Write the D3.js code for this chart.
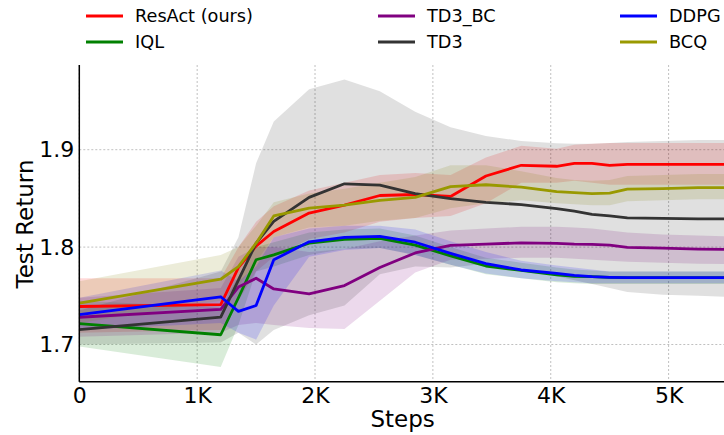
<!DOCTYPE html>
<html>
<head>
<meta charset="utf-8">
<script src="https://cdn.jsdelivr.net/npm/d3@7"></script>
<style>
  html, body { margin: 0; padding: 0; background: #fff; }
  svg { display: block; font-family: 'DejaVu Sans', sans-serif; }
</style>
</head>
<body>
<svg id="chart" width="724" height="435"></svg>
<script>
// training steps at which every run was evaluated
const steps = [0, 1200, 1350, 1500, 1650, 1950, 2250, 2550, 2850, 3150, 3450, 3750, 4050, 4200, 4350, 4500, 4650, 4950, 5250, 5500]

const resactMean = [1.739, 1.741, 1.779, 1.801, 1.816, 1.835, 1.843, 1.853, 1.854, 1.852, 1.873, 1.884, 1.883, 1.886, 1.886, 1.884, 1.885, 1.885, 1.885, 1.885]
const resactLo = [1.712, 1.715, 1.745, 1.775, 1.790, 1.808, 1.815, 1.826, 1.830, 1.832, 1.845, 1.866, 1.866, 1.868, 1.866, 1.864, 1.864, 1.864, 1.864, 1.864]
const resactHi = [1.768, 1.768, 1.800, 1.826, 1.842, 1.858, 1.866, 1.874, 1.876, 1.874, 1.892, 1.904, 1.901, 1.905, 1.906, 1.907, 1.907, 1.907, 1.907, 1.907]

const iqlMean = [1.7214, 1.710, 1.748, 1.787, 1.792, 1.804, 1.808, 1.809, 1.802, 1.791, 1.7806, 1.776, 1.7714, 1.770, 1.7697, 1.769, 1.7687, 1.7687, 1.7687, 1.7687]
const iqlLo = [1.698, 1.677, 1.720, 1.775, 1.780, 1.792, 1.798, 1.799, 1.792, 1.782, 1.772, 1.768, 1.764, 1.763, 1.762, 1.762, 1.762, 1.762, 1.762, 1.762]
const iqlHi = [1.745, 1.738, 1.770, 1.800, 1.805, 1.815, 1.818, 1.819, 1.812, 1.800, 1.789, 1.784, 1.779, 1.777, 1.776, 1.775, 1.775, 1.775, 1.775, 1.775]

const td3bcMean = [1.728, 1.736, 1.759, 1.768, 1.757, 1.752, 1.7605, 1.779, 1.794, 1.8017, 1.803, 1.8044, 1.8038, 1.803, 1.8027, 1.802, 1.7997, 1.799, 1.798, 1.7977]
const td3bcLo = [1.708, 1.712, 1.720, 1.722, 1.720, 1.717, 1.716, 1.745, 1.774, 1.787, 1.788, 1.789, 1.789, 1.788, 1.787, 1.786, 1.785, 1.784, 1.783, 1.7825]
const td3bcHi = [1.748, 1.758, 1.790, 1.800, 1.800, 1.795, 1.798, 1.806, 1.812, 1.817, 1.819, 1.821, 1.821, 1.820, 1.819, 1.817, 1.815, 1.813, 1.812, 1.811]

const td3Mean = [1.7153, 1.728, 1.766, 1.804, 1.8265, 1.851, 1.865, 1.8636, 1.855, 1.8497, 1.846, 1.8436, 1.8395, 1.837, 1.8337, 1.832, 1.830, 1.8295, 1.829, 1.829]
const td3Lo = [1.700, 1.702, 1.712, 1.700, 1.715, 1.730, 1.740, 1.772, 1.780, 1.779, 1.783, 1.778, 1.770, 1.766, 1.762, 1.758, 1.754, 1.751, 1.750, 1.749]
const td3Hi = [1.735, 1.775, 1.810, 1.886, 1.929, 1.962, 1.972, 1.960, 1.939, 1.923, 1.914, 1.909, 1.9065, 1.906, 1.906, 1.907, 1.908, 1.909, 1.910, 1.910]

const ddpgMean = [1.7306, 1.749, 1.734, 1.740, 1.787, 1.8054, 1.810, 1.811, 1.805, 1.7936, 1.783, 1.7765, 1.773, 1.771, 1.7697, 1.769, 1.7687, 1.7687, 1.7687, 1.7687]
const ddpgLo = [1.715, 1.722, 1.712, 1.705, 1.740, 1.790, 1.797, 1.799, 1.792, 1.782, 1.773, 1.768, 1.765, 1.764, 1.763, 1.763, 1.763, 1.763, 1.763, 1.763]
const ddpgHi = [1.748, 1.776, 1.765, 1.780, 1.810, 1.819, 1.822, 1.822, 1.818, 1.806, 1.795, 1.786, 1.781, 1.779, 1.777, 1.775, 1.775, 1.775, 1.775, 1.775]

const bcqMean = [1.7426, 1.767, 1.780, 1.804, 1.832, 1.840, 1.843, 1.848, 1.851, 1.862, 1.864, 1.8615, 1.857, 1.856, 1.855, 1.8555, 1.8595, 1.860, 1.861, 1.861]
const bcqLo = [1.722, 1.745, 1.760, 1.785, 1.810, 1.820, 1.822, 1.827, 1.830, 1.840, 1.845, 1.848, 1.845, 1.844, 1.843, 1.843, 1.847, 1.848, 1.849, 1.849]
const bcqHi = [1.765, 1.792, 1.800, 1.822, 1.846, 1.855, 1.860, 1.866, 1.872, 1.884, 1.884, 1.878, 1.871, 1.869, 1.868, 1.869, 1.873, 1.874, 1.875, 1.875]

const xTicks = [0, 1000, 2000, 3000, 4000, 5000]
const xTickLabels = ['0', '1K', '2K', '3K', '4K', '5K']
const yTicks = [1.7, 1.8, 1.9]

// legend order is column by column, like the original
const series = [
  {name: 'ResAct (ours)', color: '#ff0000', band: '#ff0000', mean: resactMean, lo: resactLo, hi: resactHi},
  {name: 'IQL', color: '#008000', band: '#008000', mean: iqlMean, lo: iqlLo, hi: iqlHi},
  {name: 'TD3_BC', color: '#800080', band: '#800080', mean: td3bcMean, lo: td3bcLo, hi: td3bcHi},
  {name: 'TD3', color: '#333333', band: '#000000', mean: td3Mean, lo: td3Lo, hi: td3Hi},
  {name: 'DDPG', color: '#0000ff', band: '#0000ff', mean: ddpgMean, lo: ddpgLo, hi: ddpgHi},
  {name: 'BCQ', color: '#999900', band: '#808000', mean: bcqMean, lo: bcqLo, hi: bcqHi}
]

const plot = {left: 79.3, right: 724, top: 65, bottom: 381.7}

const svg = d3.select('#chart')

const x = d3.scaleLinear().domain([0, 5470]).range([plot.left, plot.right])
const y = d3.scaleLinear().domain([1.7, 1.9]).range([344.5, 149.7])

svg.append('defs').append('clipPath')
  .attr('id', 'plotClip')
  .append('rect')
  .attr('x', plot.left)
  .attr('y', plot.top)
  .attr('width', plot.right - plot.left)
  .attr('height', plot.bottom - plot.top)

// grid
let grid = svg.append('g')
grid.selectAll('line.gx')
  .data(xTicks)
  .enter().append('line')
  .attr('x1', d => x(d))
  .attr('x2', d => x(d))
  .attr('y1', plot.top)
  .attr('y2', plot.bottom)
  .attr('stroke', '#b0b0b0')
  .attr('stroke-width', 0.8)
  .attr('stroke-dasharray', '2,2')
grid.selectAll('line.gy')
  .data(yTicks)
  .enter().append('line')
  .attr('x1', plot.left)
  .attr('x2', plot.right)
  .attr('y1', d => y(d))
  .attr('y2', d => y(d))
  .attr('stroke', '#b0b0b0')
  .attr('stroke-width', 0.8)
  .attr('stroke-dasharray', '2,2')

let area = d3.area()
  .x((d, i) => x(steps[i]))
  .y0(d => y(d[0]))
  .y1(d => y(d[1]))
let line = d3.line()
  .x((d, i) => x(steps[i]))
  .y(d => y(d))

let marks = svg.append('g').attr('clip-path', 'url(#plotClip)')

series.forEach(function (s) {
  marks.append('path')
    .attr('d', area(s.lo.map((v, i) => [v, s.hi[i]])))
    .attr('fill', s.band)
    .attr('fill-opacity', s.name === 'TD3' ? 0.12 : 0.15)
    .attr('stroke', 'none')
})
series.forEach(function (s) {
  marks.append('path')
    .attr('d', line(s.mean))
    .attr('fill', 'none')
    .attr('stroke', s.color)
    .attr('stroke-width', 2.8)
    .attr('stroke-linejoin', 'round')
})

// axes
let xAxis = svg.append('g')
  .attr('transform', 'translate(0,' + plot.bottom + ')')
  .call(d3.axisBottom(x).tickValues(xTicks).tickFormat((d, i) => xTickLabels[i]).tickSize(0).tickPadding(6))
xAxis.select('.domain').remove()
xAxis.selectAll('text')
  .attr('font-family', 'DejaVu Sans')
  .attr('font-size', 22)
  .attr('fill', '#000')
  .attr('dy', '0.71em')

let yAxis = svg.append('g')
  .attr('transform', 'translate(' + plot.left + ',0)')
  .call(d3.axisLeft(y).tickValues(yTicks).tickFormat(d3.format('.1f')).tickSize(0).tickPadding(5))
yAxis.select('.domain').remove()
yAxis.selectAll('text')
  .attr('font-family', 'DejaVu Sans')
  .attr('font-size', 22)
  .attr('fill', '#000')

svg.append('line')
  .attr('x1', plot.left).attr('x2', plot.right)
  .attr('y1', plot.bottom).attr('y2', plot.bottom)
  .attr('stroke', '#000').attr('stroke-width', 1.5)
svg.append('line')
  .attr('x1', plot.left).attr('x2', plot.left)
  .attr('y1', plot.top).attr('y2', plot.bottom)
  .attr('stroke', '#000').attr('stroke-width', 1.5)

svg.append('text')
  .text('Steps')
  .attr('x', (plot.left + plot.right) / 2 + 1)
  .attr('y', 427)
  .attr('text-anchor', 'middle')
  .attr('font-size', 23)
  .attr('fill', '#000')

svg.append('text')
  .text('Test Return')
  .attr('transform', 'translate(33,224) rotate(-90)')
  .attr('text-anchor', 'middle')
  .attr('font-size', 23)
  .attr('fill', '#000')

// legend: 3 columns, 2 rows
let legendCols = [86, 378, 620]
let legendRows = [16, 42]
series.forEach(function (s, i) {
  let lx = legendCols[Math.floor(i / 2)]
  let ly = legendRows[i % 2]
  svg.append('line')
    .attr('x1', lx).attr('x2', lx + 37)
    .attr('y1', ly).attr('y2', ly)
    .attr('stroke', s.color)
    .attr('stroke-width', 2.8)
  svg.append('text')
    .text(s.name)
    .attr('x', lx + 49)
    .attr('y', ly)
    .attr('dy', '0.35em')
    .attr('font-size', 17.7)
    .attr('fill', '#000')
})
</script>
</body>
</html>
